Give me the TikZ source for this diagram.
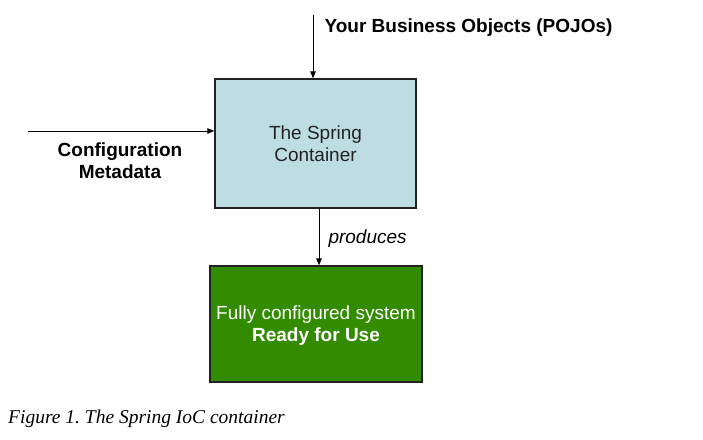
\documentclass[tikz,border=0pt]{standalone}
\usepackage{fontspec}
\usepackage{tikz}
\usetikzlibrary{arrows.meta,positioning}
\newfontfamily\arialfont{Liberation Sans}
\newfontfamily\capfont{Liberation Serif}
\definecolor{springblue}{HTML}{BDDDE2}
\definecolor{readygreen}{HTML}{338B00}
\definecolor{boxline}{HTML}{222222}
\frenchspacing

\begin{document}
\begin{tikzpicture}[x=1pt,y=-1pt,
    box/.style={draw=boxline,line width=1.4pt,align=center,
      font=\arialfont\fontsize{19}{22}\selectfont,inner sep=0pt},
    flow/.style={line width=1pt,-{Triangle[length=7pt,width=5.5pt]}},
    lbl/.style={font=\arialfont\fontsize{19}{22}\selectfont}]
  \useasboundingbox (0,0) rectangle (703,439);
  \node[box,fill=springblue,text=boxline,minimum width=201,minimum height=129] (spring) at (315.5,143.5) {The Spring\\Container};
  \node[box,fill=readygreen,text=white,minimum width=212,minimum height=116,text depth=0pt] (ready) at (316,324) {Fully configured system\\\textbf{Ready for Use}};
  \coordinate (pojoin) at (313,15);
  \coordinate (cfgin) at (28,131);
  \coordinate (prodx) at (319,0);
  \draw[flow] (pojoin) -- (spring.north -| pojoin);
  \draw[flow] (cfgin) -- (spring.west |- cfgin);
  \draw[flow] (spring.south -| prodx) -- (ready.north -| prodx);
  \node[lbl,anchor=base west] (pojos) at (321,32) {\textbf{Your Business Objects (POJOs)}};
  \node[lbl,anchor=center,align=center] (cfgmeta) at (120,161) {\textbf{Configuration}\\\textbf{Metadata}};
  \node[lbl,anchor=base west] (produces) at (325,243) {\itshape produces};
  \node[anchor=base west,inner sep=0pt] (caption) at (8,423) {\capfont\itshape\fontsize{19.5}{22}\selectfont Figure 1. The Spring IoC container};
\end{tikzpicture}
\end{document}
